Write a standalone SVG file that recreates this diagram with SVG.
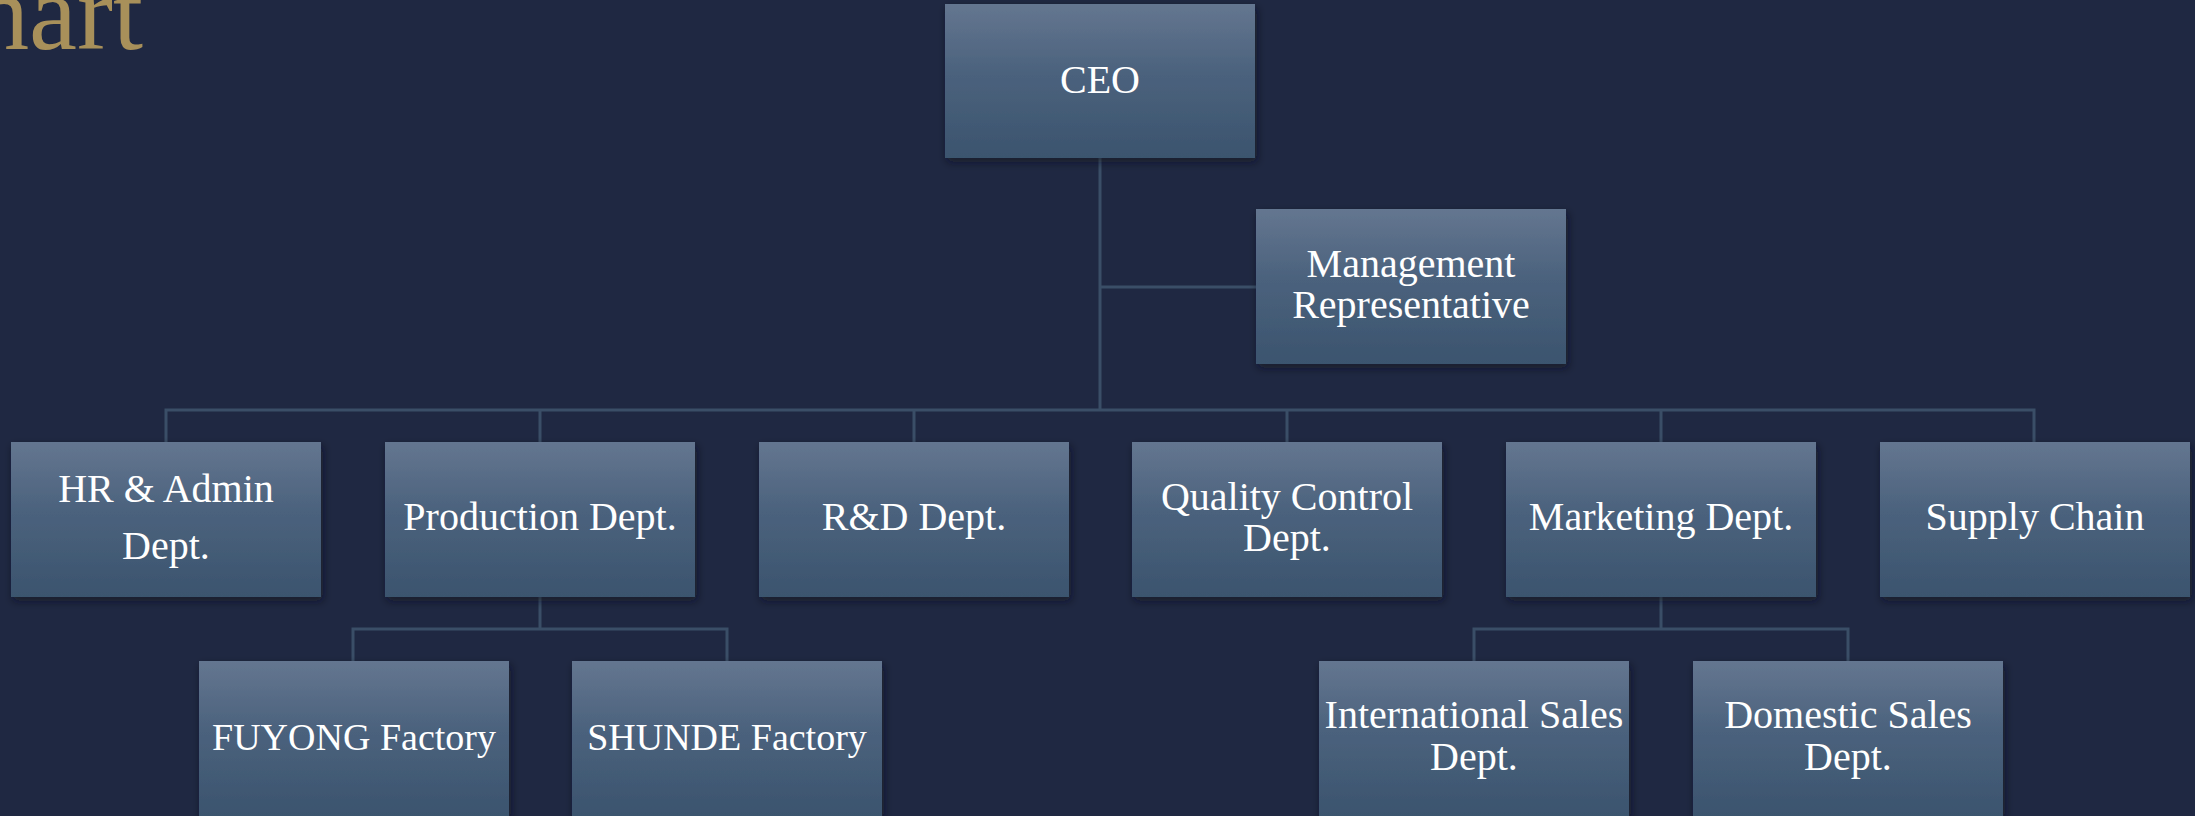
<svg xmlns="http://www.w3.org/2000/svg" width="2195" height="816" viewBox="0 0 2195 816">
<defs>
<linearGradient id="g" x1="0" y1="0" x2="0" y2="1">
<stop offset="0" stop-color="#647690"/>
<stop offset="0.45" stop-color="#4b627d"/>
<stop offset="1" stop-color="#3b546e"/>
</linearGradient>
<filter id="sh" x="-10%" y="-10%" width="125%" height="130%">
<feDropShadow dx="2" dy="4" stdDeviation="4" flood-color="#0a0f1c" flood-opacity="0.6"/>
</filter>
</defs>
<style>
.box{fill:url(#g);filter:url(#sh)}
.t{font-family:"Liberation Serif","Times New Roman",serif;font-size:40px;fill:#ffffff;text-anchor:middle}
.s{font-size:38px}
.c{fill:none;stroke:#3a4e67;stroke-width:3}
</style>
<rect width="2195" height="816" fill="#1f2842"/>
<text x="143" y="49" font-family="'Liberation Serif','Times New Roman',serif" font-size="108" fill="#a8905a" text-anchor="end">hart</text>
<g id="connectors">
<path class="c" d="M1100 158V410M1100 287H1256"/>
<path class="c" d="M166 442V410H2034V442M540 410V442M914 410V442M1287 410V442M1661 410V442"/>
<path class="c" d="M540 597V629M353 661V629H727V661"/>
<path class="c" d="M1661 597V629M1474 661V629H1848V661"/>
</g>
<g id="ceo"><rect class="box" x="945" y="4" width="310" height="154"/><text class="t" x="1100" y="93">CEO</text></g>
<g id="mgmt"><rect class="box" x="1256" y="209" width="310" height="155"/><text class="t" x="1411" y="277">Management</text><text class="t" x="1411" y="318">Representative</text></g>
<g id="hr"><rect class="box" x="11" y="442" width="310" height="155"/><text class="t" x="166" y="502">HR &amp; Admin</text><text class="t" x="166" y="559">Dept.</text></g>
<g id="prod"><rect class="box" x="385" y="442" width="310" height="155"/><text class="t" x="540" y="530">Production Dept.</text></g>
<g id="rd"><rect class="box" x="759" y="442" width="310" height="155"/><text class="t" x="914" y="530">R&amp;D Dept.</text></g>
<g id="qc"><rect class="box" x="1132" y="442" width="310" height="155"/><text class="t" x="1287" y="510">Quality Control</text><text class="t" x="1287" y="551">Dept.</text></g>
<g id="mkt"><rect class="box" x="1506" y="442" width="310" height="155"/><text class="t" x="1661" y="530">Marketing Dept.</text></g>
<g id="supply"><rect class="box" x="1880" y="442" width="310" height="155"/><text class="t" x="2035" y="530">Supply Chain</text></g>
<g id="fuyong"><rect class="box" x="199" y="661" width="310" height="155"/><text class="t s" x="354" y="750">FUYONG Factory</text></g>
<g id="shunde"><rect class="box" x="572" y="661" width="310" height="155"/><text class="t s" x="727" y="750">SHUNDE Factory</text></g>
<g id="intl"><rect class="box" x="1319" y="661" width="310" height="155"/><text class="t" x="1474" y="728">International Sales</text><text class="t" x="1474" y="770">Dept.</text></g>
<g id="dom"><rect class="box" x="1693" y="661" width="310" height="155"/><text class="t" x="1848" y="728">Domestic Sales</text><text class="t" x="1848" y="770">Dept.</text></g>
</svg>
